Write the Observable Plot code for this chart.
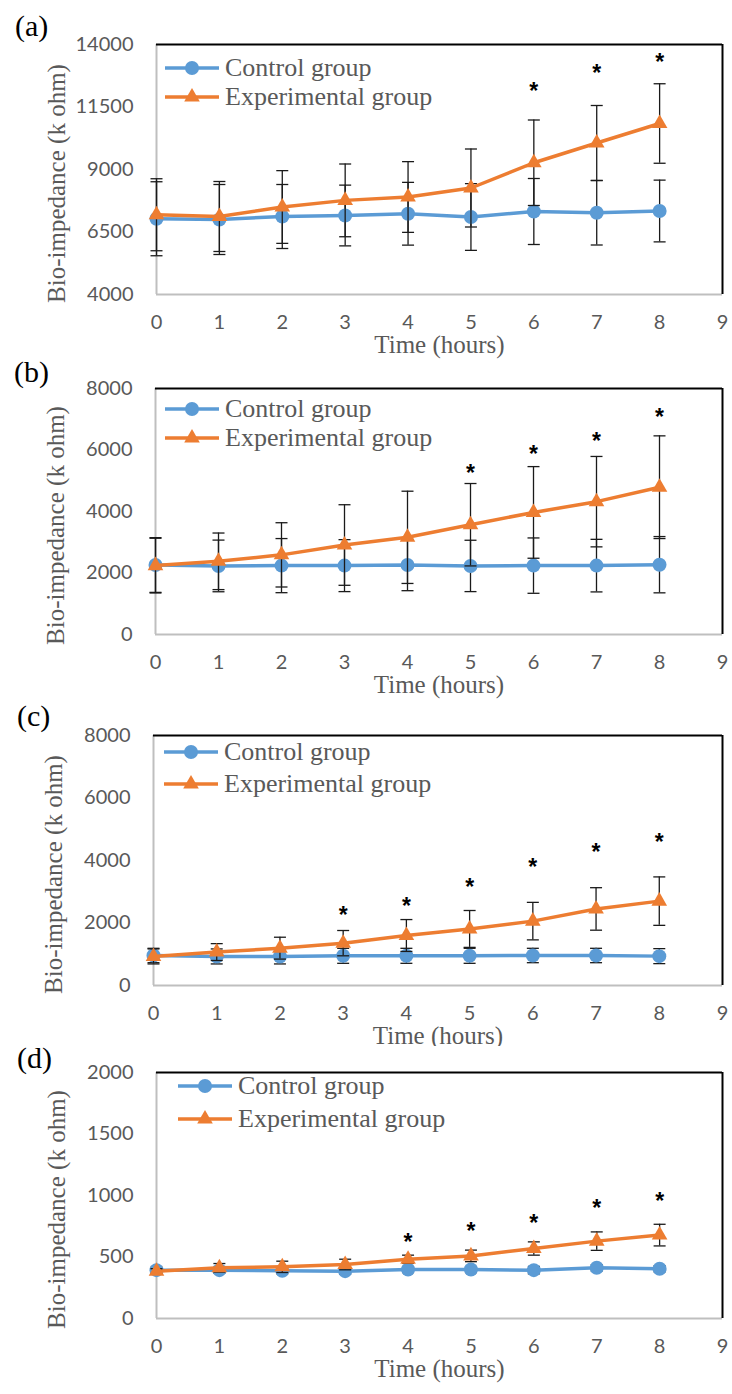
<!DOCTYPE html>
<html><head><meta charset="utf-8">
<script src="https://cdn.jsdelivr.net/npm/d3@7"></script>
<script src="https://cdn.jsdelivr.net/npm/@observablehq/plot@0.6"></script>
<style>
body{margin:0;background:#fff;}
#root{position:relative;width:732px;height:1394px;overflow:hidden;background:#fff;}
.panel{position:absolute;left:0;}
.tag{position:absolute;font-family:"Liberation Serif";font-size:30px;color:#000;line-height:1;}
.lrow{position:absolute;display:flex;align-items:center;height:30px;font-family:"Liberation Serif";font-size:26px;color:#595959;white-space:nowrap;}
.lrow svg{margin-right:6px;}
</style></head><body><div id="root"></div>
<script>
const hours = [0, 1, 2, 3, 4, 5, 6, 7, 8];
const xTicks = [0, 1, 2, 3, 4, 5, 6, 7, 8, 9];
const panelLabels = ["(a)", "(b)", "(c)", "(d)"];
const seriesNames = ["Control group", "Experimental group"];
const yLabel = "Bio-impedance (k ohm)";
const xLabel = "Time (hours)";

// (a)
const aYTicks = [4000, 6500, 9000, 11500, 14000];
const aControl = [7030, 7000, 7120, 7160, 7230, 7100, 7320, 7270, 7340];
const aControlErr = [1480, 1400, 1280, 1215, 1255, 1335, 1320, 1290, 1235];
const aExp = [7190, 7120, 7500, 7765, 7900, 8260, 9270, 10060, 10840];
const aExpErr = [1440, 1400, 1455, 1455, 1415, 1560, 1710, 1500, 1590];
const aSigHours = [6, 7, 8];
const aSigY = [12370, 13060, 13530];

// (b)
const bYTicks = [0, 2000, 4000, 6000, 8000];
const bControl = [2260, 2230, 2240, 2240, 2260, 2230, 2240, 2240, 2270];
const bControlErr = [890, 840, 880, 845, 835, 835, 900, 855, 915];
const bExp = [2240, 2380, 2590, 2910, 3160, 3570, 3970, 4320, 4790];
const bExpErr = [890, 920, 1045, 1310, 1500, 1340, 1490, 1470, 1670];
const bSigHours = [5, 6, 7, 8];
const bSigY = [5430, 6060, 6480, 7240];

// (c)
const cYTicks = [0, 2000, 4000, 6000, 8000];
const cControl = [960, 930, 930, 950, 950, 950, 960, 960, 940];
const cControlErr = [230, 240, 240, 240, 240, 240, 230, 230, 240];
const cExp = [930, 1070, 1195, 1355, 1600, 1810, 2060, 2450, 2700];
const cExpErr = [240, 270, 350, 405, 510, 590, 600, 680, 775];
const cSigHours = [3, 4, 5, 6, 7, 8];
const cSigY = [2420, 2720, 3330, 3950, 4460, 4750];

// (d)
const dYTicks = [0, 500, 1000, 1500, 2000];
const dControl = [393, 393, 388, 385, 398, 398, 393, 412, 404];
const dControlErr = [25, 25, 25, 25, 25, 25, 30, 25, 25];
const dExp = [385, 412, 420, 439, 482, 509, 569, 629, 678];
const dExpErr = [20, 35, 46, 43, 33, 47, 54, 75, 88];
const dSigHours = [4, 5, 6, 7, 8];
const dSigY = [664, 759, 821, 943, 1003];

const BLUE = "#5B9BD5", ORANGE = "#ED7D31";

const panels = [
  {tag: panelLabels[0], yTicks: aYTicks, control: aControl, controlErr: aControlErr, exp: aExp, expErr: aExpErr, sigH: aSigHours, sigY: aSigY,
   svgTop: 0, svgH: 370, frameTop: 44, frameBottom: 294, left: 156, right: 722, tagX: 15, tagY: 11, legX: 165, legY: [68, 97], bg: "transparent"},
  {tag: panelLabels[1], yTicks: bYTicks, control: bControl, controlErr: bControlErr, exp: bExp, expErr: bExpErr, sigH: bSigHours, sigY: bSigY,
   svgTop: 345, svgH: 370, frameTop: 388, frameBottom: 634, left: 155, right: 722, tagX: 14, tagY: 357, legX: 165, legY: [409, 438], bg: "transparent"},
  {tag: panelLabels[2], yTicks: cYTicks, control: cControl, controlErr: cControlErr, exp: cExp, expErr: cExpErr, sigH: cSigHours, sigY: cSigY,
   svgTop: 690, svgH: 365, frameTop: 735, frameBottom: 985, left: 153, right: 722, tagX: 17, tagY: 701, legX: 164, legY: [752, 784], bg: "transparent"},
  {tag: panelLabels[3], yTicks: dYTicks, control: dControl, controlErr: dControlErr, exp: dExp, expErr: dExpErr, sigH: dSigHours, sigY: dSigY,
   svgTop: 1046, svgH: 348, frameTop: 1072, frameBottom: 1318, left: 156, right: 722, tagX: 17, tagY: 1043, legX: 178, legY: [1086, 1119], bg: "white"}
];

const cap = {draw(ctx) { ctx.moveTo(-6, 0); ctx.lineTo(6, 0); }};
const root = document.getElementById("root");

function errMarks(rows) {
  const s = {stroke: "#1a1a1a", strokeWidth: 1.3};
  return [
    Plot.ruleX(rows, {x: "h", y1: d => d.v - d.e, y2: d => d.v + d.e, ...s}),
    Plot.dot(rows, {x: "h", y: d => d.v + d.e, symbol: cap, fill: "none", ...s}),
    Plot.dot(rows, {x: "h", y: d => d.v - d.e, symbol: cap, fill: "none", ...s})
  ];
}

panels.forEach(p => {
  const ctrl = hours.map((h, i) => ({h, v: p.control[i], e: p.controlErr[i]}));
  const exp = hours.map((h, i) => ({h, v: p.exp[i], e: p.expErr[i]}));
  const sig = p.sigH.map((h, i) => ({h, v: p.sigY[i]}));
  const y0 = p.yTicks[0], y1 = p.yTicks[p.yTicks.length - 1];
  const svg = Plot.plot({
    width: 732,
    height: p.svgH,
    marginTop: p.frameTop - p.svgTop,
    marginBottom: p.svgTop + p.svgH - p.frameBottom,
    marginLeft: p.left,
    marginRight: 732 - p.right,
    x: {domain: [0, 9]},
    y: {domain: [y0, y1]},
    style: {background: p.bg, overflow: "visible", color: "#595959", fontFamily: "Lato"},
    marks: [
      Plot.ruleY([y0], {stroke: "#bfbfbf", strokeWidth: 2}),
      Plot.ruleX([0], {stroke: "#bfbfbf", strokeWidth: 2}),
      Plot.ruleY([y1], {stroke: "#000", strokeWidth: 2}),
      Plot.ruleX([9], {stroke: "#000", strokeWidth: 2}),
      Plot.axisY({ticks: p.yTicks, tickSize: 0, tickPadding: 23, fontSize: 20, fontFamily: "Lato", fill: "#595959", label: null, tickFormat: d => String(d)}),
      Plot.axisX({ticks: xTicks, tickSize: 0, tickPadding: 20, fontSize: 20, fontFamily: "Lato", fill: "#595959", label: null, tickFormat: d => String(d)}),
      Plot.text([xLabel], {frameAnchor: "bottom", dy: 58, text: d => d, fontFamily: "Liberation Serif", fontSize: 25, fill: "#595959"}),
      Plot.text([yLabel], {frameAnchor: "left", dx: -100, dy: 14, rotate: -90, textAnchor: "middle", text: d => d, fontFamily: "Liberation Serif", fontSize: 25, fill: "#595959"}),
      Plot.line(ctrl, {x: "h", y: "v", stroke: BLUE, strokeWidth: 3.5}),
      ...errMarks(ctrl),
      Plot.dot(ctrl, {x: "h", y: "v", r: 7, fill: BLUE, symbol: "circle"}),
      Plot.line(exp, {x: "h", y: "v", stroke: ORANGE, strokeWidth: 3.5}),
      ...errMarks(exp),
      Plot.dot(exp, {x: "h", y: "v", r: 5.8, fill: ORANGE, symbol: "triangle"}),
      Plot.text(sig, {x: "h", y: "v", text: () => "*", fontSize: 23, fontWeight: "bold", fontFamily: "Liberation Sans", fill: "#000", dy: 6})
    ]
  });
  svg.classList.add("panel");
  svg.style.top = p.svgTop + "px";
  root.appendChild(svg);

  const tag = document.createElement("div");
  tag.className = "tag";
  tag.textContent = p.tag;
  tag.style.left = p.tagX + "px";
  tag.style.top = p.tagY + "px";
  root.appendChild(tag);

  seriesNames.forEach((name, k) => {
    const row = document.createElement("div");
    row.className = "lrow";
    row.style.left = p.legX + "px";
    row.style.top = (p.legY[k] - 15) + "px";
    const color = k === 0 ? BLUE : ORANGE;
    const sym = k === 0
      ? `<circle cx="27" cy="10" r="7" fill="${color}"/>`
      : `<path d="${d3.symbol(d3.symbolTriangle, Math.PI * 5.8 * 5.8)()}" transform="translate(27,10)" fill="${color}"/>`;
    row.innerHTML = `<svg width="54" height="20"><line x1="0" x2="54" y1="10" y2="10" stroke="${color}" stroke-width="3.5"/>${sym}</svg><span>${name}</span>`;
    root.appendChild(row);
  });
});
</script></body></html>
